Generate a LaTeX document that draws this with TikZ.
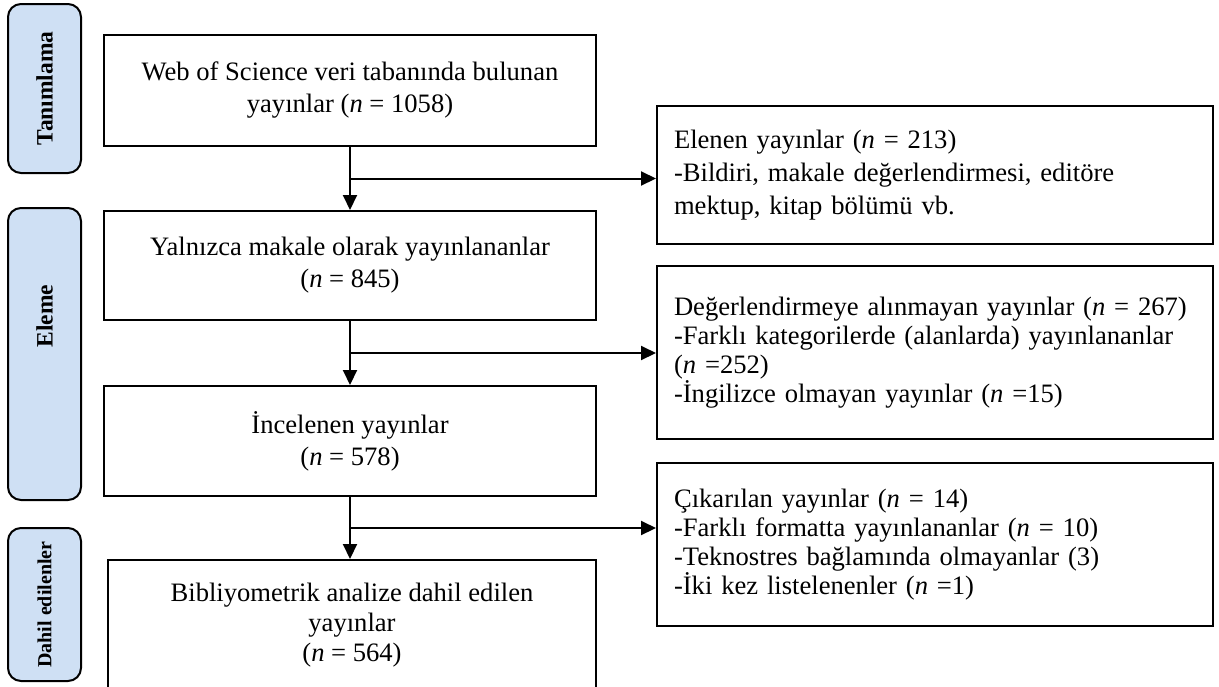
\documentclass[tikz,border=0pt]{standalone}
\usepackage{fontspec}
\setmainfont{Liberation Serif}
\usetikzlibrary{arrows.meta,positioning,calc}
\definecolor{PhaseBlue}{HTML}{CFE0F4}

\begin{document}
\begin{tikzpicture}[x=0.5pt,y=-0.5pt,
    box/.style={draw,line width=1pt,minimum width=246pt,inner sep=0pt,
      align=center,font=\fontsize{13.3}{16}\selectfont},
    note/.style={draw,line width=1pt,text width=261pt,inner xsep=8.5pt,inner ysep=0pt,
      align=left,font=\fontsize{13.3}{14.5}\selectfont},
    phase/.style={draw,line width=1pt,rounded corners=6.5pt,fill=PhaseBlue,rotate=90,
      minimum height=36.5pt,inner sep=0pt,font=\fontsize{11.75}{14}\selectfont\bfseries},
    arr/.style={-{Triangle[length=7.5pt,width=7pt]},line width=1pt}
  ]
    \useasboundingbox (0,0) rectangle (1219,686);
    \node[phase,minimum width=84.5pt] (tanim) at (44.5,88.5) {Tanımlama};
    \node[phase,minimum width=146pt] (eleme) at (44.5,354) {\hspace*{38pt}Eleme};
    \node[phase,minimum width=76.5pt,font=\fontsize{10}{12}\selectfont\bfseries] (dahilp) at (44.5,604.5) {Dahil edilenler};

    \node[box,minimum height=55.5pt] (web) at (350,90.5)
      {Web of Science veri tabanında bulunan\\yayınlar (\textit{n} = 1058)};
    \node[box,minimum height=54.5pt,below=31.5pt of web] (makale)
      {Yalnızca makale olarak yayınlananlar\\(\textit{n} = 845)};
    \node[box,minimum height=55pt,below=32pt of makale] (incelenen)
      {İncelenen yayınlar\\(\textit{n} = 578)};
    \node[box,minimum width=244pt,minimum height=65.5pt,below=31pt of incelenen,xshift=1pt,
      font=\fontsize{13.3}{15}\selectfont] (dahil)
      {Bibliyometrik analize dahil edilen\\yayınlar\\(\textit{n} = 564)};

    \node[note,minimum height=69pt,font=\fontsize{13.3}{16.5}\selectfont] (elenen) at (935,175)
      {Elenen yayınlar (\textit{n} = 213)\\-Bildiri, makale değerlendirmesi, editöre\\mektup, kitap bölümü vb.};
    \node[note,minimum height=86.5pt] (alinmayan) at (935,352.5)
      {Değerlendirmeye alınmayan yayınlar (\textit{n} = 267)\\-Farklı kategorilerde (alanlarda) yayınlananlar\\(\textit{n} =252)\\-İngilizce olmayan yayınlar (\textit{n} =15)};
    \node[note,minimum height=81.5pt] (cikarilan) at (935,544.5)
      {Çıkarılan yayınlar (\textit{n} = 14)\\-Farklı formatta yayınlananlar (\textit{n} = 10)\\-Teknostres bağlamında olmayanlar (3)\\-İki kez listelenenler (\textit{n} =1)};

    \draw[arr] (web.south) -- (makale.north);
    \draw[arr] (makale.south) -- (incelenen.north);
    \draw[arr] (incelenen.south) -- (incelenen.south |- dahil.north);
    \coordinate (k1) at ($(web.south)!0.5!(makale.north)$);
    \coordinate (k2) at ($(makale.south)!0.5!(incelenen.north)$);
    \coordinate (k3) at ($(incelenen.south)!0.5!(incelenen.south |- dahil.north)$);
    \draw[arr] (k1) -- (k1 -| elenen.west);
    \draw[arr] (k2) -- (k2 -| alinmayan.west);
    \draw[arr] (k3) -- (k3 -| cikarilan.west);
  \end{tikzpicture}
\end{document}
